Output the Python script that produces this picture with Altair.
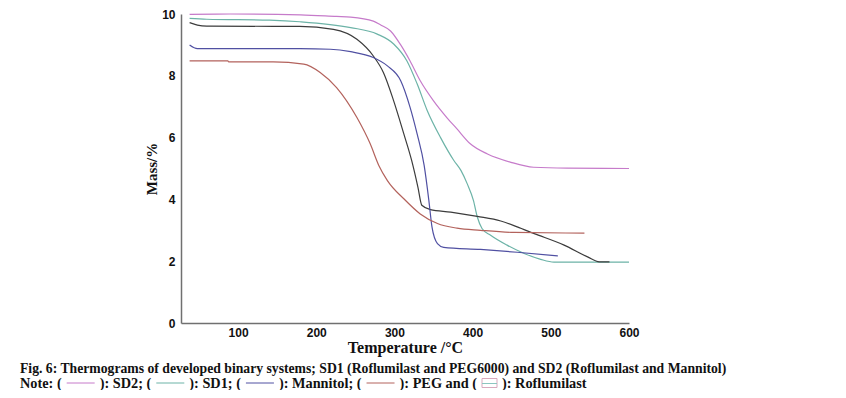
import altair as alt
import pandas as pd

# ---- data ----
sd2_t = [38, 90, 180, 226, 244, 273, 282, 295, 308, 320, 333, 350, 367, 380, 397, 419, 449, 478, 521, 600]
sd2_m = [9.99, 10.0, 9.97, 9.92, 9.9, 9.77, 9.65, 9.45, 9.0, 8.48, 7.84, 7.19, 6.65, 6.28, 5.8, 5.47, 5.2, 5.04, 5.01, 5.0]

sd1_t = [38, 60, 140, 179, 244, 278, 299, 316, 329, 342, 359, 376, 385, 393, 401, 406, 412, 423, 444, 466, 487, 504, 600]
sd1_m = [9.86, 9.83, 9.8, 9.75, 9.56, 9.35, 9.03, 8.48, 7.74, 6.87, 6.0, 5.26, 4.94, 4.51, 3.97, 3.43, 3.06, 2.84, 2.52, 2.25, 2.06, 1.97, 1.97]

rof_t = [38, 48, 60, 145, 179, 222, 252, 273, 286, 299, 312, 322, 330, 335, 346, 372, 406, 436, 457, 478, 517, 547, 562, 575]
rof_m = [9.72, 9.64, 9.61, 9.6, 9.6, 9.5, 9.18, 8.64, 8.1, 7.19, 6.12, 5.26, 4.4, 3.81, 3.67, 3.59, 3.45, 3.3, 3.11, 2.9, 2.52, 2.14, 1.98, 1.98]

man_t = [38, 48, 179, 218, 244, 273, 291, 308, 320, 329, 338, 344, 348, 355, 363, 410, 457, 509]
man_m = [9.0, 8.88, 8.88, 8.86, 8.78, 8.59, 8.32, 7.84, 6.98, 6.12, 5.1, 3.97, 3.11, 2.57, 2.45, 2.38, 2.29, 2.17]

peg_t = [38, 87, 88, 145, 184, 205, 226, 252, 269, 280, 291, 312, 333, 355, 380, 410, 453, 543]
peg_m = [8.48, 8.48, 8.45, 8.45, 8.38, 8.11, 7.62, 6.65, 5.8, 5.1, 4.61, 4.02, 3.53, 3.22, 3.07, 3.0, 2.93, 2.91]

series_names = ["SD2", "SD1", "Roflumilast", "Mannitol", "PEG"]
series_colors = ["#c67bca", "#6cb3a7", "#3c3c3c", "#5050a2", "#b3625c"]

x_ticks = [100, 200, 300, 400, 500, 600]
y_ticks = [0, 2, 4, 6, 8, 10]

caption1 = "Fig. 6: Thermograms of developed binary systems; SD1 (Roflumilast and PEG6000) and SD2 (Roflumilast and Mannitol)"
note_parts = ["Note: (", "): SD2; (", "): SD1; (", "): Mannitol; (", "): PEG and (", "): Roflumilast"]
note_keys = ["SD2", "SD1", "Mannitol", "PEG", "Roflumilast"]

rows = []
for name, ts, ms in zip(series_names, [sd2_t, sd1_t, rof_t, man_t, peg_t], [sd2_m, sd1_m, rof_m, man_m, peg_m]):
    for i, (t, m) in enumerate(zip(ts, ms)):
        rows.append({"series": name, "T": t, "M": m, "i": i})
df = pd.DataFrame(rows)

W, H = 448, 309

lines = alt.Chart(df).mark_line(strokeWidth=1.2, interpolate="monotone").encode(
    x=alt.X("T:Q", scale=alt.Scale(domain=[27, 600], nice=False, zero=False),
            axis=alt.Axis(values=x_ticks, title="Temperature /°C", tickSize=0, labelPadding=4,
                          labelFlush=False, labelOverlap=False,
                          titlePadding=1, labelFontSize=12, labelFont="Liberation Sans",
                          labelFontWeight="bold", titleFont="Liberation Serif", titleFontSize=16,
                          titleFontWeight="bold", domainColor="#707070", domainWidth=1.5,
                          grid=False, labelColor="#111111", titleColor="#111111")),
    y=alt.Y("M:Q", scale=alt.Scale(domain=[0, 10], nice=False),
            axis=alt.Axis(values=y_ticks, title="Mass/%", tickSize=0, labelPadding=6,
                          labelFlush=False, labelOverlap=False,
                          titlePadding=2, labelFontSize=12, labelFont="Liberation Sans",
                          labelFontWeight="bold", titleFont="Liberation Serif", titleFontSize=15,
                          titleFontWeight="bold", domainColor="#707070", domainWidth=1.5,
                          grid=False, labelColor="#111111", titleColor="#111111")),
    color=alt.Color("series:N", scale=alt.Scale(domain=series_names, range=series_colors), legend=None),
    order="i:Q",
)

# ---- caption (text layout) ----
ox, oy = 181, 14  # page position of plot origin
FS1, FS2 = 13.7, 14.3
TB = {"N": 722, "o": 500, "t": 333, "e": 444, ":": 333, " ": 250, "(": 333, ")": 333,
      "S": 556, "D": 722, "2": 500, ";": 333, "1": 500, "M": 944, "a": 500, "n": 556,
      "i": 278, "l": 278, "P": 611, "E": 667, "G": 778, "d": 556, "R": 722, "f": 333,
      "u": 556, "m": 833, "s": 389}

def tw(s, fs):
    return sum(TB.get(c, 500) for c in s) * fs / 1000.0

def txt(s, xpage, ybase, fs):
    return alt.Chart(pd.DataFrame({"t": [s]})).mark_text(
        align="left", baseline="alphabetic", font="Liberation Serif", fontWeight="bold",
        fontSize=fs, color="#111111"
    ).encode(text="t:N", x=alt.value(xpage - ox), y=alt.value(ybase - oy))

def seg(x1, x2, ypage, color, sw=1):
    return alt.Chart(pd.DataFrame({"a": [0]})).mark_rule(color=color, strokeWidth=sw).encode(
        x=alt.value(x1 - ox), x2=alt.value(x2 - ox), y=alt.value(ypage - oy))

base1, base2 = 372.5, 387.5
mid2 = base2 - 4.5
layers = [txt(caption1, 20, base1, FS1)]
x = 20.0
GAP, LL, ICON = 5, 28, 15
key_color = dict(zip(series_names, series_colors))
for k, part in enumerate(note_parts):
    layers.append(txt(part, x, base2, FS2))
    x += tw(part, FS2)
    if k < len(note_keys):
        key = note_keys[k]
        if key == "Roflumilast":
            layers.append(alt.Chart(pd.DataFrame({"a": [0]})).mark_rect(
                fill="white", stroke="#d8a9bd", strokeWidth=1
            ).encode(x=alt.value(x + GAP - ox), x2=alt.value(x + GAP + ICON - ox),
                     y=alt.value(mid2 - 4.5 - oy), y2=alt.value(mid2 + 4.5 - oy)))
            layers.append(seg(x + GAP, x + GAP + ICON, mid2 + 0.5, "#8cc6c0"))
            x += GAP * 2 + ICON
        else:
            layers.append(seg(x + GAP, x + GAP + LL, mid2, key_color[key]))
            x += GAP * 2 + LL

chart = alt.layer(lines, *layers).properties(
    width=W, height=H,
    autosize=alt.AutoSizeParams(type="none"),
    padding={"left": 173, "top": 6, "right": 846 - 16 - 173 - W, "bottom": 382 - 6 - H},
).configure(background="white").configure_view(stroke=None)

chart.save("out.html", embed_options={"renderer": "svg", "actions": False})
